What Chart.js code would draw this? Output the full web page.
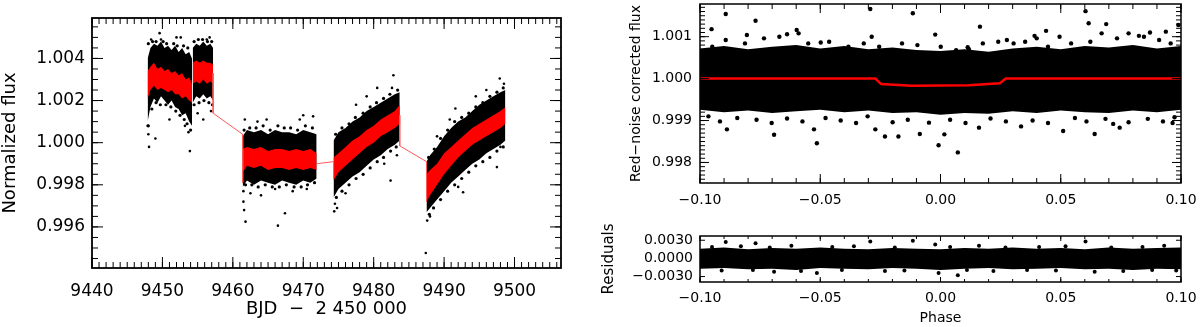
<!DOCTYPE html>
<html>
<head>
<meta charset="utf-8">
<script src="https://cdn.jsdelivr.net/npm/chart.js@4.4.0/dist/chart.umd.min.js"></script>
<style>
  body { margin: 0; background: #fff; width: 1200px; height: 327px; position: relative; overflow: hidden; }
  .panel { position: absolute; }
</style>
</head>
<body>
<div class="panel" style="left:0;top:0;width:600px;height:327px"><canvas id="lightCurve"></canvas></div>
<div class="panel" style="left:600px;top:0;width:600px;height:215px"><canvas id="phaseFlux"></canvas></div>
<div class="panel" style="left:600px;top:215px;width:600px;height:112px"><canvas id="residuals"></canvas></div>
<script>
// ---- left panel: normalized flux vs BJD ----
const bjdTicks = [9440, 9450, 9460, 9470, 9480, 9490, 9500];
const fluxTicks = [0.996, 0.998, 1.000, 1.002, 1.004];
const fluxLabels = ["0.996", "0.998", "1.000", "1.002", "1.004"];

// one entry per observing segment (dense black cloud + red binned curve)
const segTime = [
  [9447.9, 9448.3, 9448.8, 9449.3, 9449.8, 9450.3, 9450.8, 9451.3, 9451.8, 9452.3, 9452.8, 9453.3, 9453.8, 9454.2],
  [9454.3, 9454.8, 9455.3, 9455.8, 9456.3, 9456.8, 9457.2],
  [9461.4, 9462.0, 9463.0, 9464.0, 9465.0, 9466.0, 9467.0, 9468.0, 9469.0, 9470.0, 9471.0, 9471.9],
  [9474.3, 9475.0, 9476.0, 9477.0, 9478.0, 9479.0, 9480.0, 9481.0, 9482.0, 9483.0, 9483.7],
  [9487.5, 9488.0, 9489.0, 9490.0, 9491.0, 9492.0, 9493.0, 9494.0, 9495.0, 9496.0, 9497.0, 9498.0, 9498.7]
];
const cloudTop = [
  [1.0040, 1.0045, 1.0047, 1.0046, 1.0048, 1.0045, 1.0046, 1.0044, 1.0046, 1.0043, 1.0045, 1.0042, 1.0043, 1.0040],
  [1.0045, 1.0047, 1.0046, 1.0048, 1.0046, 1.0047, 1.0045],
  [1.0003, 1.0006, 1.0005, 1.0006, 1.0004, 1.0006, 1.0005, 1.0005, 1.0004, 1.0006, 1.0005, 1.0004],
  [1.0001, 1.0005, 1.0007, 1.0010, 1.0012, 1.0015, 1.0017, 1.0019, 1.0021, 1.0023, 1.0024],
  [0.9991, 0.9994, 0.9998, 1.0003, 1.0007, 1.0010, 1.0012, 1.0015, 1.0018, 1.0020, 1.0022, 1.0024, 1.0025]
];
const cloudBottom = [
  [1.0010, 1.0017, 1.0021, 1.0019, 1.0022, 1.0020, 1.0018, 1.0020, 1.0017, 1.0016, 1.0013, 1.0014, 1.0010, 1.0008],
  [1.0019, 1.0022, 1.0021, 1.0023, 1.0021, 1.0022, 1.0020],
  [0.9979, 0.9982, 0.9980, 0.9982, 0.9981, 0.9980, 0.9982, 0.9981, 0.9980, 0.9982, 0.9981, 0.9983],
  [0.9974, 0.9978, 0.9981, 0.9984, 0.9986, 0.9989, 0.9992, 0.9994, 0.9997, 0.9999, 1.0001],
  [0.9967, 0.9969, 0.9973, 0.9977, 0.9981, 0.9984, 0.9987, 0.9990, 0.9992, 0.9995, 0.9997, 0.9999, 1.0001]
];
const binTop = [
  [1.0034, 1.0036, 1.0038, 1.0035, 1.0036, 1.0034, 1.0035, 1.0033, 1.0034, 1.0032, 1.0033, 1.0030, 1.0031, 1.0028],
  [1.0038, 1.0039, 1.0038, 1.0039, 1.0038, 1.0038, 1.0037],
  [0.9997, 0.9998, 0.9997, 0.9998, 0.9996, 0.9997, 0.9997, 0.9996, 0.9997, 0.9996, 0.9997, 0.9995],
  [0.9993, 0.9995, 0.9998, 1.0001, 1.0003, 1.0006, 1.0008, 1.0011, 1.0013, 1.0015, 1.0018],
  [0.9985, 0.9987, 0.9990, 0.9995, 0.9998, 1.0001, 1.0004, 1.0007, 1.0009, 1.0011, 1.0013, 1.0015, 1.0017]
];
const binBottom = [
  [1.0021, 1.0025, 1.0027, 1.0025, 1.0026, 1.0025, 1.0024, 1.0025, 1.0023, 1.0023, 1.0021, 1.0022, 1.0020, 1.0019],
  [1.0028, 1.0029, 1.0028, 1.0030, 1.0028, 1.0029, 1.0028],
  [0.9986, 0.9989, 0.9988, 0.9989, 0.9987, 0.9988, 0.9988, 0.9987, 0.9988, 0.9987, 0.9988, 0.9987],
  [0.9982, 0.9986, 0.9989, 0.9992, 0.9995, 0.9998, 1.0000, 1.0003, 1.0005, 1.0007, 1.0009],
  [0.9972, 0.9975, 0.9980, 0.9985, 0.9989, 0.9993, 0.9996, 0.9999, 1.0001, 1.0003, 1.0005, 1.0007, 1.0009]
];
// thin red model line joining the segments (null = break)
const linkTime = [9457.2, 9457.2, 9461.4, 9461.4, null, 9471.9, 9474.3, 9474.3, null, 9483.7, 9483.7, 9487.5, 9487.5];
const linkFlux = [1.0033, 1.0014, 1.0004, 0.9981, null, 0.9990, 0.9991, 0.9983, null, 1.0013, 0.99985, 0.9991, 0.9972];
// ragged points along the cloud edges
const edgeTime = [9448.0, 9448.6, 9449.1, 9450.1, 9450.6, 9451.6, 9452.1, 9453.0, 9453.6,
  9448.0, 9448.5, 9449.1, 9449.7, 9450.5, 9451.2, 9451.9, 9452.5, 9453.1, 9453.5, 9454.0,
  9454.5, 9455.1, 9455.7, 9456.4, 9457.0, 9454.5, 9455.2, 9455.9, 9456.6, 9457.1,
  9461.6, 9462.4, 9463.3, 9464.3, 9465.3, 9466.4, 9467.3, 9468.2, 9469.2, 9470.3, 9471.3,
  9461.8, 9462.7, 9463.6, 9464.6, 9465.6, 9466.6, 9467.6, 9468.7, 9469.7, 9470.6, 9471.6,
  9474.6, 9475.5, 9476.5, 9477.4, 9478.5, 9479.5, 9480.4, 9481.4, 9482.3, 9483.4,
  9474.7, 9475.5, 9476.5, 9477.5, 9478.5, 9479.5, 9480.5, 9481.4, 9482.4, 9483.2,
  9487.8, 9488.6, 9489.5, 9490.5, 9491.5, 9492.5, 9493.5, 9494.5, 9495.5, 9496.5, 9497.5, 9498.4,
  9487.9, 9488.5, 9489.5, 9490.5, 9491.5, 9492.5, 9493.5, 9494.5, 9495.5, 9496.5, 9497.5, 9498.4];
const edgeFlux = [1.0047, 1.0048, 1.0048, 1.0048, 1.0047, 1.0047, 1.0046, 1.0046, 1.0045,
  1.0008, 1.0016, 1.0019, 1.0018, 1.0018, 1.0017, 1.0015, 1.0013, 1.0011, 1.0009, 1.0006,
  1.0048, 1.0049, 1.0049, 1.0048, 1.0048, 1.0018, 1.0019, 1.0020, 1.0019, 1.0018,
  1.0006, 1.0007, 1.0007, 1.0008, 1.0006, 1.0008, 1.0007, 1.0007, 1.0006, 1.0008, 1.0007,
  0.9980, 0.9980, 0.9979, 0.9980, 0.9979, 0.9979, 0.9980, 0.9979, 0.9979, 0.9980, 0.9981,
  1.0004, 1.0007, 1.0009, 1.0012, 1.0014, 1.0017, 1.0019, 1.0021, 1.0023, 1.0025,
  0.9974, 0.9977, 0.9980, 0.9983, 0.9985, 0.9988, 0.9991, 0.9993, 0.9996, 0.9998,
  0.9993, 0.9997, 1.0002, 1.0006, 1.0010, 1.0012, 1.0014, 1.0017, 1.0019, 1.0022, 1.0024, 1.0026,
  0.9966, 0.9969, 0.9973, 0.9977, 0.9980, 0.9983, 0.9986, 0.9989, 0.9991, 0.9993, 0.9996, 0.9998];
// scattered points well outside the dense clouds
const strayTime = [9447.9, 9448.0, 9449.0, 9449.6, 9452.0, 9453.7, 9455.8, 9456.7, 9448.1, 9448.4, 9449.8,
  9451.0, 9452.6, 9453.2, 9453.9, 9455.0, 9456.3, 9456.9,
  9461.8, 9466.4, 9467.4, 9461.7, 9464.8, 9470.0, 9471.4, 9461.5, 9461.5, 9461.6, 9462.5, 9464.0,
  9466.0, 9468.5, 9470.5, 9463.5, 9469.5,
  9474.4, 9482.4, 9482.8, 9474.5, 9474.8, 9476.0, 9477.5, 9479.0, 9480.5, 9482.6, 9481.5, 9483.3,
  9487.4, 9497.5, 9497.9, 9491.6, 9492.7, 9487.6, 9488.0, 9489.0, 9490.8, 9492.0, 9494.5, 9496.0, 9498.5, 9498.0];
const strayFlux = [1.0008, 1.0004, 1.0002, 1.0052, 1.0050, 1.0005, 1.0011, 1.0050, 0.9998, 1.0049, 1.0049,
  1.0011, 1.0050, 1.0008, 0.9996, 1.0014, 1.0049, 1.0015,
  0.99625, 0.99606, 0.99665, 1.0011, 1.0011, 1.0013, 1.00125, 0.9977, 0.9972, 0.9968, 0.9976, 0.9975,
  0.9978, 0.9977, 0.9978, 1.0010, 1.0011,
  0.99674, 0.9982, 1.0032, 0.9971, 0.9969, 0.9976, 1.0018, 1.0022, 1.0026, 1.0026, 0.9990, 0.9994,
  0.99476, 0.99884, 1.00305, 1.00162, 0.99765, 0.9963, 0.9965, 1.0003, 1.0011, 0.9979, 1.0022, 1.0025, 1.0028, 0.9998];

// ---- right panels: phase folded ----
const phaseTicks = [-0.1, -0.05, 0, 0.05, 0.1];
const phaseLabels = ["\u22120.10", "\u22120.05", "0.00", "0.05", "0.10"];
const corrTicks = [0.998, 0.999, 1.000, 1.001];
const corrLabels = ["0.998", "0.999", "1.000", "1.001"];
const resTicks = [-0.003, 0, 0.003];
const resLabels = ["\u22120.0030", "0.0000", "0.0030"];

const bandPhase = [-0.1, -0.09, -0.08, -0.07, -0.06, -0.05, -0.04, -0.03, -0.02, -0.01, 0,
  0.01, 0.02, 0.03, 0.04, 0.05, 0.06, 0.07, 0.08, 0.09, 0.1];
const corrTop = [1.00072, 1.00078, 1.00070, 1.00076, 1.00080, 1.00072, 1.00078, 1.00070, 1.00074, 1.00068, 1.00066,
  1.00070, 1.00064, 1.00072, 1.00076, 1.00070, 1.00078, 1.00074, 1.00080, 1.00072, 1.00078];
const corrBottom = [0.99926, 0.99920, 0.99924, 0.99918, 0.99922, 0.99926, 0.99920, 0.99924, 0.99918, 0.99920, 0.99914,
  0.99918, 0.99916, 0.99922, 0.99918, 0.99924, 0.99920, 0.99918, 0.99924, 0.99920, 0.99926];
const corrDotPhase = [-0.0893, -0.0952, -0.0769, -0.0805, -0.0638, -0.0598, -0.0498, -0.0292, -0.0286, -0.0115,
  -0.0022, 0.0118, 0.0164, 0.0276, 0.0391, 0.0439, 0.0603, 0.0616, 0.0689, 0.0825, 0.0871, 0.0937, 0.0989,
  -0.0888, -0.0692, -0.0526, -0.0514, -0.0271, -0.0231, -0.0175, -0.0086, -0.0008, 0.0016, 0.0072, 0.016,
  0.0335, 0.051, 0.0641, 0.0718, 0.0745, 0.0965,
  -0.0949, -0.0893, -0.0813, -0.0734, -0.0670, -0.0590, -0.0550, -0.0463, -0.0383, -0.0319, -0.0255, -0.0160,
  -0.0096, 0.0001, 0.0065, 0.0113, 0.0176, 0.0240, 0.0304, 0.0352, 0.0400, 0.0447, 0.0495, 0.0543, 0.0623,
  0.0670, 0.0734, 0.0782, 0.0846, 0.0909, 0.0957,
  -0.0965, -0.0917, -0.0845, -0.0765, -0.0702, -0.0638, -0.0574, -0.0478, -0.0415, -0.0351, -0.0303, -0.0199,
  -0.0136, -0.0048, 0.0040, 0.0104, 0.0208, 0.0272, 0.0383, 0.0447, 0.0559, 0.0607, 0.0686, 0.0782, 0.0862,
  0.0925, 0.0973];
const corrDotFlux = [1.00154, 1.00118, 1.00138, 1.00104, 1.00106, 1.00116, 1.00086, 1.00166, 1.0010, 1.00156,
  1.00105, 1.0007, 1.00124, 1.00092, 1.00102, 1.00114, 1.00161, 1.00132, 1.0013, 1.00102, 1.0011, 1.00112, 1.00128,
  0.99879, 0.99866, 0.99879, 0.99846, 0.99879, 0.99862, 0.99862, 0.99868, 0.99841, 0.99867, 0.99824, 0.99883,
  0.99886, 0.99875, 0.99868, 0.99892, 0.99883, 0.99894,
  1.00076, 1.00092, 1.00084, 1.00096, 1.00100, 1.00108, 1.00084, 1.00088, 1.00076, 1.00084, 1.00076, 1.00084,
  1.00080, 1.00076, 1.00068, 1.00075, 1.00084, 1.00088, 1.00084, 1.00088, 1.00096, 1.00076, 1.00100, 1.00084, 1.00088,
  1.00108, 1.00096, 1.00108, 1.00100, 1.00092, 1.00084,
  0.99910, 0.99898, 0.99906, 0.99902, 0.99894, 0.99905, 0.99898, 0.99906, 0.99900, 0.99894, 0.99910, 0.99896,
  0.99902, 0.99895, 0.99902, 0.99894, 0.99905, 0.99898, 0.99900, 0.99894, 0.99906, 0.99898, 0.99904, 0.99896, 0.99904,
  0.99898, 0.99908];
const modelPhase = [-0.1, -0.0271, -0.0247, -0.012, 0.0118, 0.0247, 0.0271, 0.1];
const modelFlux = [1.0, 1.0, 0.99987, 0.99983, 0.99984, 0.99989, 1.0, 1.0];

const resTop = [0.0016, 0.0018, 0.0015, 0.0017, 0.0016, 0.0018, 0.0016, 0.0015, 0.0017, 0.0016, 0.0015,
  0.0017, 0.0016, 0.0018, 0.0016, 0.0017, 0.0015, 0.0018, 0.0016, 0.0017, 0.0018];
const resBottom = [-0.0017, -0.0016, -0.0018, -0.0017, -0.0019, -0.0016, -0.0017, -0.0018, -0.0016, -0.0017, -0.0019,
  -0.0017, -0.0016, -0.0018, -0.0017, -0.0016, -0.0018, -0.0017, -0.0019, -0.0017, -0.0018];
const resDotPhase = [-0.0893, -0.0769, -0.0292, -0.0115, -0.0022, 0.0603, -0.0514, -0.0008, 0.0072, -0.0231, 0.0641, -0.0692,
  -0.095, -0.083, -0.071, -0.062, -0.045, -0.036, -0.019, 0.004, 0.016, 0.027, 0.041, 0.052, 0.071, 0.084, 0.093,
  -0.091, -0.078, -0.058, -0.041, -0.015, 0.011, 0.022, 0.036, 0.048, 0.076, 0.088, 0.098];
const resDotValue = [0.0027, 0.0025, 0.0028, 0.0029, 0.0023, 0.0028, -0.0024, -0.0024, -0.0028, -0.0021, -0.0022, -0.0022,
  0.0019, 0.0020, 0.0018, 0.0021, 0.0019, 0.0020, 0.0018, 0.0019, 0.0021, 0.0018, 0.0019, 0.0020, 0.0018, 0.0019, 0.0021,
  -0.0020, -0.0019, -0.0021, -0.0019, -0.0020, -0.0019, -0.0021, -0.0019, -0.0020, -0.0021, -0.0019, -0.0020];

const zip = (xs, ys) => xs.map((x, i) => ({ x: x, y: ys[i] }));
const FONT = "'DejaVu Sans', sans-serif";

// IDL-style box with inward ticks on all four sides
const idlFrame = {
  id: "idlFrame",
  afterDatasetsDraw(chart, args, opts) {
    const { ctx, chartArea: a } = chart;
    const xs = chart.scales.x, ys = chart.scales.y;
    ctx.save();
    ctx.strokeStyle = "#000";
    ctx.lineWidth = 1;
    ctx.beginPath();
    const each = (scale, step, fn) => {
      const k0 = Math.ceil(scale.min / step - 1e-6), k1 = Math.floor(scale.max / step + 1e-6);
      for (let k = k0; k <= k1; k++) fn(scale.getPixelForValue(k * step));
    };
    const xTick = (len) => (px) => {
      ctx.moveTo(px, a.bottom); ctx.lineTo(px, a.bottom - len);
      ctx.moveTo(px, a.top); ctx.lineTo(px, a.top + len);
    };
    const yTick = (len) => (py) => {
      ctx.moveTo(a.left, py); ctx.lineTo(a.left + len, py);
      ctx.moveTo(a.right, py); ctx.lineTo(a.right - len, py);
    };
    if (opts.xMinor) each(xs, opts.xMinor, xTick(opts.minorLen));
    if (opts.yMinor) each(ys, opts.yMinor, yTick(opts.minorLen));
    xs.ticks.forEach(t => xTick(opts.majorLen)(xs.getPixelForValue(t.value)));
    ys.ticks.forEach(t => yTick(opts.majorLen)(ys.getPixelForValue(t.value)));
    ctx.stroke();
    ctx.lineWidth = opts.frameWidth;
    ctx.strokeRect(a.left, a.top, a.right - a.left, a.bottom - a.top);
    ctx.restore();
  }
};

function axis(opts) {
  return {
    type: "linear",
    min: opts.min,
    max: opts.max,
    grid: { display: false, drawTicks: false },
    border: { display: false },
    afterBuildTicks: s => { s.ticks = opts.ticks.map(v => ({ value: v })); },
    afterFit: s => {
      if (opts.width) s.width = opts.width;
      if (opts.height) s.height = opts.height;
      s.paddingLeft = 0; s.paddingRight = 0; s.paddingTop = 0; s.paddingBottom = 0;
    },
    ticks: {
      autoSkip: false,
      maxRotation: 0,
      color: "#000",
      padding: opts.pad,
      font: { family: FONT, size: opts.size },
      callback: (v, i) => opts.labels[i]
    },
    title: opts.title ? {
      display: true,
      text: opts.title,
      color: "#000",
      font: { family: FONT, size: opts.titleSize },
      padding: opts.titlePad
    } : { display: false }
  };
}

function band(xs, top, bottom, color, order) {
  return [
    { type: "line", data: zip(xs, top), fill: "+1", backgroundColor: color, borderWidth: 0, pointRadius: 0, tension: 0, order: order },
    { type: "line", data: zip(xs, bottom), fill: false, borderWidth: 0, pointRadius: 0, tension: 0, order: order }
  ];
}

const common = {
  responsive: true,
  maintainAspectRatio: false,
  animation: false,
  events: []
};

// left panel datasets
const lcSets = [];
segTime.forEach((xs, i) => {
  lcSets.push(...band(xs, cloudTop[i], cloudBottom[i], "#000", 3));
  lcSets.push(...band(xs, binTop[i], binBottom[i], "#ff0000", 1));
});
lcSets.push({ type: "scatter", data: zip(edgeTime, edgeFlux), backgroundColor: "#000", borderWidth: 0, pointRadius: 1.6, order: 2 });
lcSets.push({ type: "scatter", data: zip(strayTime, strayFlux), backgroundColor: "#000", borderWidth: 0, pointRadius: 1.3, order: 2 });
lcSets.push({ type: "line", data: zip(linkTime, linkFlux), borderColor: "#ff5a5a", borderWidth: 1, pointRadius: 0, spanGaps: false, fill: false, order: 0 });

new Chart(document.getElementById("lightCurve"), {
  type: "scatter",
  data: { datasets: lcSets },
  plugins: [idlFrame],
  options: Object.assign({}, common, {
    layout: { padding: { left: 0, top: 18, right: 39, bottom: 0 } },
    plugins: {
      legend: { display: false },
      tooltip: { enabled: false },
      idlFrame: { xMinor: 1, yMinor: 0.0005, majorLen: 11, minorLen: 6, frameWidth: 1.8 }
    },
    scales: {
      x: axis({ min: 9440, max: 9506.6, ticks: bjdTicks, labels: bjdTicks.map(String), height: 59, pad: 13, size: 17,
        title: "BJD\u00a0\u00a0\u2212\u00a0\u00a02\u00a0450\u00a0000", titleSize: 18, titlePad: { top: 0, bottom: 7 } }),
      y: axis({ min: 0.99405, max: 1.00592, ticks: fluxTicks, labels: fluxLabels, width: 92, pad: 7, size: 17,
        title: "Normalized flux", titleSize: 18, titlePad: { top: 0, bottom: 0 } })
    }
  })
});

// top right: red-noise corrected flux
const pfSets = [
  ...band(bandPhase, corrTop, corrBottom, "#000", 3),
  { type: "scatter", data: zip(corrDotPhase, corrDotFlux), backgroundColor: "#000", borderWidth: 0, pointRadius: 2.2, order: 2 },
  { type: "line", data: zip(modelPhase, modelFlux), borderColor: "#ff0000", borderWidth: 2.5, pointRadius: 0, tension: 0, fill: false, order: 0 }
];
new Chart(document.getElementById("phaseFlux"), {
  type: "scatter",
  data: { datasets: pfSets },
  plugins: [idlFrame],
  options: Object.assign({}, common, {
    layout: { padding: { left: 0, top: 4, right: 19, bottom: 0 } },
    plugins: {
      legend: { display: false },
      tooltip: { enabled: false },
      idlFrame: { xMinor: 0.01, yMinor: 0.0001, majorLen: 9, minorLen: 5, frameWidth: 1.5 }
    },
    scales: {
      x: axis({ min: -0.1, max: 0.1, ticks: phaseTicks, labels: phaseLabels, height: 32, pad: 9, size: 14 }),
      y: axis({ min: 0.99751, max: 1.00178, ticks: corrTicks, labels: corrLabels, width: 100, pad: 8, size: 14,
        title: "Red\u2212noise corrected flux", titleSize: 14, titlePad: { top: 28, bottom: 0 } })
    }
  })
});

// bottom right: residuals
const resSets = [
  ...band(bandPhase, resTop, resBottom, "#000", 3),
  { type: "scatter", data: zip(resDotPhase, resDotValue), backgroundColor: "#000", borderWidth: 0, pointRadius: 2, order: 2 }
];
new Chart(document.getElementById("residuals"), {
  type: "scatter",
  data: { datasets: resSets },
  plugins: [idlFrame],
  options: Object.assign({}, common, {
    layout: { padding: { left: 0, top: 21, right: 19, bottom: 0 } },
    plugins: {
      legend: { display: false },
      tooltip: { enabled: false },
      idlFrame: { xMinor: 0.01, yMinor: 0, majorLen: 5, minorLen: 3, frameWidth: 1.5 }
    },
    scales: {
      x: axis({ min: -0.1, max: 0.1, ticks: phaseTicks, labels: phaseLabels, height: 45, pad: 8, size: 14,
        title: "Phase", titleSize: 14, titlePad: { top: 0, bottom: 0 } }),
      y: axis({ min: -0.0039, max: 0.0037, ticks: resTicks, labels: resLabels, width: 100, pad: 7, size: 14,
        title: "Residuals", titleSize: 15, titlePad: { top: 0, bottom: 0 } })
    }
  })
});
</script>
</body>
</html>
